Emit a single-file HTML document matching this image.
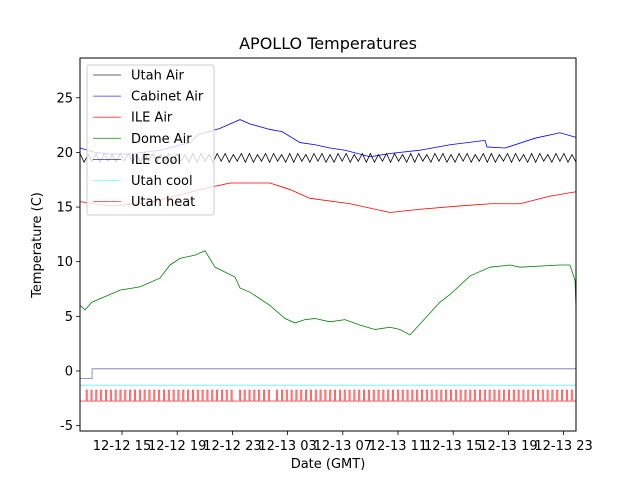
<!DOCTYPE html>
<html><head><meta charset="utf-8"><style>
html,body{margin:0;padding:0;background:#fff}
svg text{font-family:"DejaVu Sans","Liberation Sans",sans-serif;fill:#000}
</style></head><body>
<svg id="chart" width="640" height="480" xmlns="http://www.w3.org/2000/svg">
<rect width="640" height="480" fill="#fff"/>
<text x="328" y="49" font-size="16" text-anchor="middle">APOLLO Temperatures</text>
<g id="plot"></g>
<g id="axes"></g>
<text x="328" y="468" font-size="13" text-anchor="middle">Date (GMT)</text>
<text transform="translate(41,245) rotate(-90)" font-size="13" text-anchor="middle">Temperature (C)</text>
<g id="legend"></g>
</svg>
<script>
// hours since 12-12 00:00
const xTickHours=[15,19,23,27,31,35,39,43,47];
const xTickLabels=["12-12 15","12-12 19","12-12 23","12-13 03","12-13 07","12-13 11","12-13 15","12-13 19","12-13 23"];
const yTicks=[-5,0,5,10,15,20,25];
const domeTimes=[11.96,12.32,12.83,14.13,14.86,16.30,17.75,18.48,19.20,20.29,21.01,21.16,21.74,23.19,23.55,24.28,25.72,26.81,27.54,28.26,28.99,30.07,31.16,32.25,33.33,34.42,35.14,35.87,38.04,38.77,40.22,41.67,43.12,43.84,46.74,47.46,47.83,47.90];
const domeAir=[6.0,5.6,6.3,7.0,7.4,7.7,8.5,9.7,10.3,10.6,11.0,10.7,9.5,8.6,7.6,7.2,6.0,4.8,4.4,4.7,4.8,4.5,4.7,4.2,3.8,4.0,3.8,3.3,6.3,7.0,8.7,9.5,9.7,9.5,9.7,9.7,8.3,5.6];
const cabTimes=[11.96,13.04,14.13,15.58,17.75,19.93,20.5,22.10,23.55,24.28,25.72,26.59,27.90,28.99,30.07,31.16,32.97,34.42,36.59,38.77,41.30,41.45,42.75,44.93,46.74,47.83,47.90];
const cabinetAir=[20.4,20.0,19.85,19.85,20.2,20.9,21.6,22.2,23.0,22.6,22.1,21.9,20.9,20.7,20.4,20.2,19.6,19.9,20.2,20.7,21.1,20.5,20.4,21.3,21.8,21.4,21.4];
const ileTimes=[11.96,14.13,17.03,20.65,22.83,25.72,27.17,28.62,31.52,34.42,36.59,39.49,41.67,43.84,46.01,47.90];
const ileAir=[15.5,15.1,15.4,16.6,17.2,17.2,16.6,15.8,15.3,14.5,14.8,15.1,15.3,15.3,16.0,16.4];
const utahAir=[19.9,19.1,19.8,19.2,19.9,19.1,19.9,19.2,19.8,19.1,19.9,19.2,19.9,19.1,19.8,19.1,19.9,19.2,19.9,19.1,19.8,19.2,19.9,19.1,19.9,19.2,19.8,19.1,19.9,19.1,19.9,19.2,19.8,19.1,19.9,19.2,19.9,19.1,19.8,19.2,19.9,19.1,19.9,19.1,19.8,19.2,19.9,19.1,19.9,19.2,19.8,19.1,19.9,19.1,19.9,19.2,19.8,19.1,19.9,19.2,19.9,19.1,19.8,19.1,19.9,19.2,19.9,19.1,19.8,19.2,19.9,19.1,19.9,19.1,19.8,19.2,19.9,19.1,19.9,19.2,19.8,19.1,19.9,19.1,19.9,19.2,19.8,19.1,19.9,19.2,19.9,19.1,19.8,19.1,19.9,19.2,19.9,19.1,19.8,19.2,19.9,19.1,19.9,19.1,19.8,19.2,19.9,19.1,19.9,19.2,19.8,19.1,19.9,19.1,19.9,19.2,19.8,19.1,19.9,19.2,19.9,19.1,19.8,19.1];
const ileCoolTimes=[11.96,12.83,12.83,47.90];
const ileCool=[-0.7,-0.7,0.2,0.2];
const utahCoolTimes=[11.96,47.90];
const utahCool=[-1.3,-1.3];
const heatPulses=[12.4,12.75,13.1,13.45,13.8,14.15,14.5,14.85,15.2,15.55,15.9,16.25,16.6,16.95,17.3,17.65,18.0,18.35,18.7,19.05,19.4,19.75,20.1,20.45,20.8,21.15,21.5,21.85,22.2,22.55,22.9,23.5,23.85,24.2,24.55,24.9,25.25,25.6,26.2,26.55,26.9,27.25,27.6,27.95,28.3,28.65,29.0,29.35,29.7,30.05,30.4,30.75,31.1,31.45,31.8,32.15,32.5,32.85,33.2,33.55,33.9,34.25,34.6,34.95,35.3,35.65,36.0,36.35,36.7,37.05,37.4,37.75,38.1,38.45,38.8,39.15,39.5,39.85,40.2,40.55,40.9,41.25,41.6,41.95,42.3,42.65,43.0,43.35,43.7,44.05,44.4,44.75,45.1,45.45,45.8,46.15,46.5,46.85,47.2,47.55];
const heatLow=-2.75, heatHigh=-1.75;

const L=80,R=576,T=58,B=431;
const h0=11.96,h1=47.90;
function X(h){return 122+(h-15)*13.8;}
function Y(v){return 371-v*10.93;}
const NS="http://www.w3.org/2000/svg";
function mk(tag,attrs,parent){const e=document.createElementNS(NS,tag);for(const k in attrs)e.setAttribute(k,attrs[k]);parent.appendChild(e);return e;}
const plot=document.getElementById('plot'),axes=document.getElementById('axes'),leg=document.getElementById('legend');
function line(times,vals,color,name,op){
  const d=vals.map((v,i)=>(i?'L':'M')+X(times[i]).toFixed(2)+','+Y(v).toFixed(2)).join('');
  const p=mk('path',{d:d,fill:'none',stroke:color,'stroke-width':0.8,'stroke-opacity':op||1},plot);
  
  
}
const cp=mk('clipPath',{id:'cp'},plot);mk('rect',{x:L,y:T,width:R-L,height:B-T},cp);
plot.setAttribute('clip-path','url(#cp)');
line(cabTimes,cabinetAir,'#0000ff','cabinet-air-line');
line(ileTimes,ileAir,'#ff0000','ile-air-line');
line(domeTimes,domeAir,'#008000','dome-air-line');
const uaT=utahAir.map((v,i)=>h0+(h1-h0)*i/(utahAir.length-1));
line(uaT,utahAir,'#000000','utah-air-line');
line(ileCoolTimes,ileCool,'#000080','ile-cool-line',0.55);
line(utahCoolTimes,utahCool,'#00e5ee','utah-cool-line',0.6);
let hd='M'+X(h0)+','+Y(heatLow);
heatPulses.forEach(t=>{hd+='L'+X(t).toFixed(2)+','+Y(heatLow)+'L'+X(t).toFixed(2)+','+Y(heatHigh)+'L'+X(t+0.08).toFixed(2)+','+Y(heatHigh)+'L'+X(t+0.08).toFixed(2)+','+Y(heatLow);});
hd+='L'+X(h1)+','+Y(heatLow);
const hp=mk('path',{d:hd,fill:'none',stroke:'#ff0000','stroke-width':0.8,'stroke-opacity':0.75},plot);



mk('rect',{x:L,y:T,width:R-L,height:B-T,fill:'none',stroke:'#000','stroke-width':1},axes);
xTickHours.forEach((h,i)=>{const x=X(h);mk('line',{x1:x,x2:x,y1:B,y2:B+4,stroke:'#000','stroke-width':0.8},axes);
  const t=mk('text',{x:x,y:B+19,'font-size':13,'text-anchor':'middle'},axes);t.textContent=xTickLabels[i];
  
  });
yTicks.forEach(v=>{const y=Y(v);mk('line',{x1:L-4,x2:L,y1:y,y2:y,stroke:'#000','stroke-width':0.8},axes);
  const t=mk('text',{x:L-7,y:y+4.5,'font-size':13,'text-anchor':'end'},axes);t.textContent=v;
  
  });

mk('rect',{x:87,y:65,width:127,height:150,rx:2,fill:'#fff','fill-opacity':0.8,stroke:'#ccc','stroke-width':1},leg);
const legNames=["Utah Air","Cabinet Air","ILE Air","Dome Air","ILE cool","Utah cool","Utah heat"];
const legColors=["#000","#00f","#f00","#008000","#000080","#00ffff","#f00"];
const legOp=[0.8,0.8,0.8,0.8,0.8,0.6,0.8];
legNames.forEach((n,i)=>{const y=75+i*21.1;
  mk('line',{x1:93,x2:121,y1:y,y2:y,stroke:legColors[i],'stroke-width':0.8,'stroke-opacity':legOp[i]},leg);
  const t=mk('text',{x:131,y:y+4.5,'font-size':13},leg);t.textContent=n;
  
  });
</script>
</body></html>
